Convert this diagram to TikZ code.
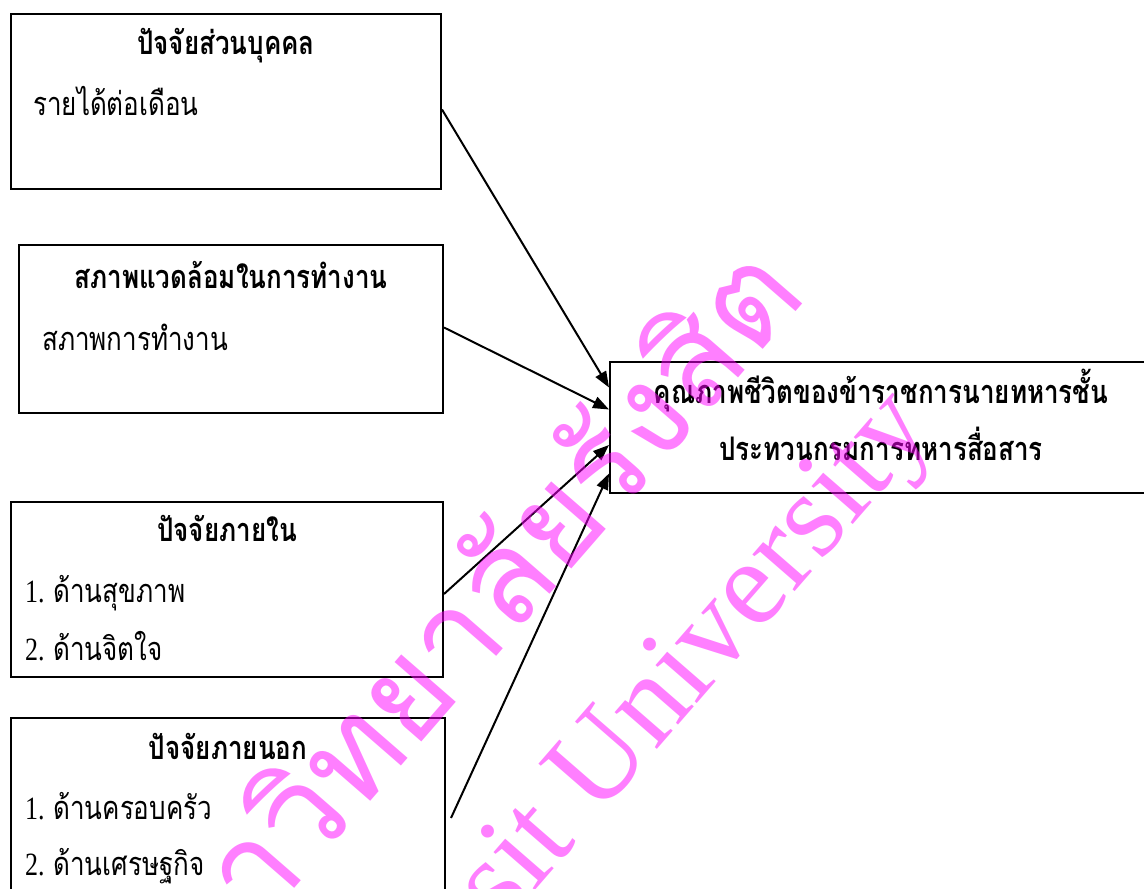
\documentclass[tikz,border=0pt]{standalone}
\usepackage{fontspec}
\setmainfont{Liberation Serif}
\newfontfamily\thai[Script=Thai]{Loma}
\usetikzlibrary{arrows.meta}
\definecolor{wmcol}{RGB}{255,0,255}
\newcommand{\tallt}[1]{\scalebox{1}[1.25]{#1}}
\newcommand{\numl}[1]{{\rmfamily #1 }}
\begin{document}
\begin{tikzpicture}[x=1pt,y=-1pt,
  box/.style={draw, line width=2pt, inner sep=0pt},
  ttl/.style={font=\thai\bfseries\fontsize{26}{30}\selectfont, inner sep=0pt, anchor=base},
  itm/.style={font=\thai\fontsize{26}{30}\selectfont, inner sep=0pt, anchor=base west},
  conn/.style={line width=2pt, -{Triangle[length=16pt,width=12pt]}},
  wm/.style={text=wmcol, text opacity=0.5, inner sep=0pt, rotate=49, anchor=base west}]
\useasboundingbox (0,0) rectangle (1144,889);
\clip (0,0) rectangle (1144,889);
% boxes
\node[box, minimum width=430pt, minimum height=175pt] (b1) at (226,101.5) {};
\node[box, minimum width=424pt, minimum height=168pt] (b2) at (231,329) {};
\node[box, minimum width=542pt, minimum height=131pt] (b3) at (881,427.5) {};
\node[box, minimum width=432pt, minimum height=175pt] (b4) at (227,589.5) {};
\node[box, minimum width=434pt, minimum height=187pt] (b5) at (228,811.5) {};
% texts
\node[ttl] (t1) at (226,54) {\tallt{ปัจจัยส่วนบุคคล}};
\node[itm] (i1) at (33,115) {\tallt{รายได้ต่อเดือน}};
\node[ttl] (t2) at (231,288) {\tallt{สภาพแวดล้อมในการทำงาน}};
\node[itm] (i2) at (42,350) {\tallt{สภาพการทำงาน}};
\node[ttl] (t3a) at (881,403) {\tallt{คุณภาพชีวิตของข้าราชการนายทหารชั้น}};
\node[ttl] (t3b) at (881,460) {\tallt{ประทวนกรมการทหารสื่อสาร}};
\node[ttl] (t4) at (227,541) {\tallt{ปัจจัยภายใน}};
\node[itm] (i4a) at (25,602) {\tallt{\numl{1.}ด้านสุขภาพ}};
\node[itm] (i4b) at (25,660) {\tallt{\numl{2.}ด้านจิตใจ}};
\node[ttl] (t5) at (228,759) {\tallt{ปัจจัยภายนอก}};
\node[itm] (i5a) at (25,819) {\tallt{\numl{1.}ด้านครอบครัว}};
\node[itm] (i5b) at (25,875) {\tallt{\numl{2.}ด้านเศรษฐกิจ}};
% connectors
\draw[conn] ([yshift=-8pt]b1.east) -- ([yshift=40pt]b3.west);
\draw[conn] ([yshift=1.5pt]b2.east) -- ([yshift=18pt]b3.west);
\draw[conn] ([yshift=-4.5pt]b4.east) -- ([yshift=-17.5pt]b3.west);
\draw[conn] ([xshift=5pt,yshift=-6.5pt]b5.east) -- ([yshift=-46pt]b3.west);
% watermark
\node[wm, font=\thai\fontsize{130}{140}\selectfont] (w1) at (149,1056) {มหาวิทยาลัยรังสิต};
\node[wm, font=\rmfamily\fontsize{122}{130}\selectfont] (w2) at (333,1123) {Rangsit University};
\end{tikzpicture}
\end{document}
